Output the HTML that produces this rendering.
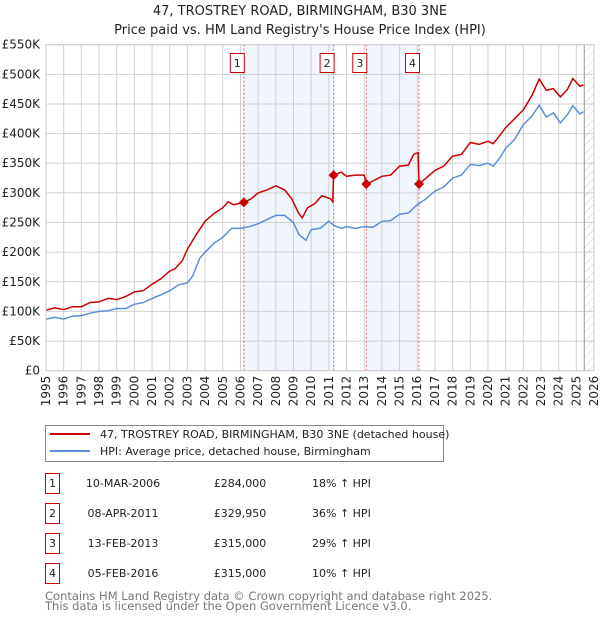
<!DOCTYPE html>
<html><head><meta charset="utf-8"><style>
body{margin:0;background:#fff;font-family:"Liberation Sans","DejaVu Sans",sans-serif;}
svg text{font-family:"DejaVu Sans","Liberation Sans",sans-serif;}
</style></head><body>
<svg id="c" width="600" height="620" xmlns="http://www.w3.org/2000/svg">
<text x="300" y="15" text-anchor="middle" font-size="13" fill="#222">47, TROSTREY ROAD, BIRMINGHAM, B30 3NE</text>
<text x="300" y="34" text-anchor="middle" font-size="13" fill="#222">Price paid vs. HM Land Registry's House Price Index (HPI)</text>
<g id="plot"></g>
<g>
<rect x="45.5" y="425.5" width="398" height="36" fill="#fff" stroke="#888"/>
<line x1="50" y1="434" x2="90" y2="434" stroke="#cc0000" stroke-width="2"/>
<text x="100" y="438" font-size="11" fill="#222">47, TROSTREY ROAD, BIRMINGHAM, B30 3NE (detached house)</text>
<line x1="50" y1="451" x2="90" y2="451" stroke="#5b8fd6" stroke-width="2"/>
<text x="100" y="455" font-size="11" fill="#222">HPI: Average price, detached house, Birmingham</text>
</g>
<g id="table" font-size="11" fill="#222"></g>
<text x="45" y="600" font-size="11.5" fill="#777">Contains HM Land Registry data © Crown copyright and database right 2025.</text>
<text x="45" y="610" font-size="11.5" fill="#777">This data is licensed under the Open Government Licence v3.0.</text>
</svg>
<script>
const hpiYears=[1995,1995.5,1996,1996.5,1997,1997.5,1998,1998.5,1999,1999.5,2000,2000.5,2001,2001.5,2002,2002.5,2003,2003.3,2003.7,2004,2004.5,2005,2005.5,2006,2006.5,2007,2007.5,2008,2008.5,2009,2009.3,2009.7,2010,2010.5,2011,2011.3,2011.7,2012,2012.5,2013,2013.5,2014,2014.5,2015,2015.5,2016,2016.5,2017,2017.5,2018,2018.5,2019,2019.5,2020,2020.3,2020.7,2021,2021.5,2022,2022.5,2022.9,2023.3,2023.7,2024.1,2024.5,2024.8,2025.2,2025.4];
const hpiValues=[87,90,87,92,93,97,100,101,105,105,112,115,122,128,135,145,148,160,190,200,215,225,240,240,243,248,255,262,262,250,230,220,238,240,252,245,240,243,240,243,242,252,253,264,266,280,290,303,310,325,330,348,346,350,345,360,375,390,415,430,448,428,435,418,432,447,433,437];
const propYears=[1995,1995.5,1996,1996.5,1997,1997.5,1998,1998.5,1999,1999.5,2000,2000.5,2001,2001.5,2002,2002.3,2002.7,2003,2003.5,2004,2004.5,2005,2005.3,2005.6,2006.2,2006.6,2007,2007.5,2008,2008.5,2008.9,2009.3,2009.5,2009.8,2010.2,2010.6,2011.1,2011.22,2011.27,2011.7,2012,2012.5,2013.0,2013.12,2013.5,2014,2014.5,2015,2015.5,2015.8,2016.05,2016.1,2016.5,2017,2017.5,2018,2018.5,2019,2019.5,2020,2020.3,2020.7,2021,2021.5,2022,2022.5,2022.9,2023.3,2023.7,2024.1,2024.5,2024.8,2025.2,2025.4];
const propValues=[102,106,103,108,108,115,116,122,120,125,133,135,146,155,168,172,185,205,230,252,265,275,285,280,284,290,300,305,312,305,290,265,258,275,282,295,290,285,330,335,328,330,330,315,320,328,330,345,347,365,368,315,325,338,345,362,365,385,382,387,383,398,410,425,440,465,492,473,476,462,475,493,480,482];
const saleYears=[2006.19,2011.27,2013.12,2016.1];
const saleValues=[284,329.95,315,315];
const saleLabels=["1","2","3","4"];
const saleDates=["10-MAR-2006","08-APR-2011","13-FEB-2013","05-FEB-2016"];
const salePrices=["£284,000","£329,950","£315,000","£315,000"];
const saleHpi=["18% ↑ HPI","36% ↑ HPI","29% ↑ HPI","10% ↑ HPI"];
const yTicks=[0,50,100,150,200,250,300,350,400,450,500,550];
const yTickLabels=["£0","£50K","£100K","£150K","£200K","£250K","£300K","£350K","£400K","£450K","£500K","£550K"];
const xTicks=[1995,1996,1997,1998,1999,2000,2001,2002,2003,2004,2005,2006,2007,2008,2009,2010,2011,2012,2013,2014,2015,2016,2017,2018,2019,2020,2021,2022,2023,2024,2025,2026];

const L=46,R=594,T=44.7,B=370.7;
const X=y=>L+(y-1995)/(2026-1995)*(R-L);
const Y=v=>B-v/550*(B-T);
const NS="http://www.w3.org/2000/svg";
const plot=document.getElementById('plot');
function mk(tag,attrs,parent){const e=document.createElementNS(NS,tag);for(const k in attrs)e.setAttribute(k,attrs[k]);(parent||plot).appendChild(e);return e;}

for(let i=0;i<4;i+=2){
 const r=mk('rect',{x:X(saleYears[i]),y:T,width:X(saleYears[i+1])-X(saleYears[i]),height:B-T,fill:'#eef3fc',opacity:0.8});
 
 
}
const defs=mk('defs',{});
const pat=mk('pattern',{id:'h',width:6,height:6,patternUnits:'userSpaceOnUse',patternTransform:'rotate(45)'},defs);
mk('line',{x1:0,y1:0,x2:0,y2:6,stroke:'#ccc','stroke-width':1},pat);
const hx=X(2025.45);
const hr=mk('rect',{x:hx,y:T,width:R-hx,height:B-T,fill:'url(#h)'});


xTicks.forEach((t,i)=>{
 const l=mk('line',{x1:X(t),y1:T,x2:X(t),y2:B,stroke:'#d0d0d0','stroke-width':1});
 
 
 const tx=mk('text',{x:0,y:0,'font-size':12,fill:'#222','text-anchor':'end',transform:`translate(${X(t)+4},${B+5}) rotate(-90)`});
 tx.textContent=t;
 
 
});
yTicks.forEach((t,i)=>{
 const l=mk('line',{x1:L,y1:Y(t),x2:R,y2:Y(t),stroke:'#d0d0d0','stroke-width':1});
 
 
 const tx=mk('text',{x:L-6,y:Y(t)+4,'font-size':12,fill:'#222','text-anchor':'end'});
 tx.textContent=yTickLabels[i];
 
 
});
const hl=mk('line',{x1:hx,y1:T,x2:hx,y2:B,stroke:'#999','stroke-width':1});


saleYears.forEach((s,i)=>{
 const l=mk('line',{x1:X(s),y1:T,x2:X(s),y2:B,stroke:'#e06060','stroke-width':1,'stroke-dasharray':'2,2'});
 
 
});
function path(xs,vs){return xs.map((x,i)=>(i?'L':'M')+X(x).toFixed(1)+','+Y(vs[i]).toFixed(1)).join('');}
const hp=mk('path',{d:path(hpiYears,hpiValues),fill:'none',stroke:'#5b8fd6','stroke-width':1.5});


const pp=mk('path',{d:path(propYears,propValues),fill:'none',stroke:'#cc0000','stroke-width':1.5});


saleYears.forEach((s,i)=>{
 const cx=X(s),cy=Y(saleValues[i]);
 const d=mk('path',{d:`M${cx},${cy-5}L${cx+5},${cy}L${cx},${cy+5}L${cx-5},${cy}Z`,fill:'#cc0000'});
 
 
 const g=mk('g',{});
 
 
 mk('rect',{x:cx-13.5,y:53.5,width:14,height:19,fill:'#fff',stroke:'#cc0000'},g);
 const t=mk('text',{x:cx-6.5,y:67,'font-size':11,'text-anchor':'middle',fill:'#222'},g);
 t.textContent=saleLabels[i];
});
const ax=mk('rect',{x:L,y:T,width:R-L,height:B-T,fill:'none',stroke:'#ccc'});


const tb=document.getElementById('table');
const rowsY=[483,513,543,573];
saleLabels.forEach((lab,i)=>{
 const g=mk('g',{},tb);
 
 
 mk('rect',{x:45.5,y:rowsY[i]-9.5,width:14,height:20,fill:'#fff',stroke:'#cc0000'},g);
 const a=mk('text',{x:52.5,y:rowsY[i]+4,'text-anchor':'middle'},g);a.textContent=lab;
 const b=mk('text',{x:123,y:rowsY[i]+4,'text-anchor':'middle'},g);b.textContent=saleDates[i];
 const c=mk('text',{x:240,y:rowsY[i]+4,'text-anchor':'middle'},g);c.textContent=salePrices[i];
 const d=mk('text',{x:312,y:rowsY[i]+4},g);d.textContent=saleHpi[i];
});
</script>
</body></html>
